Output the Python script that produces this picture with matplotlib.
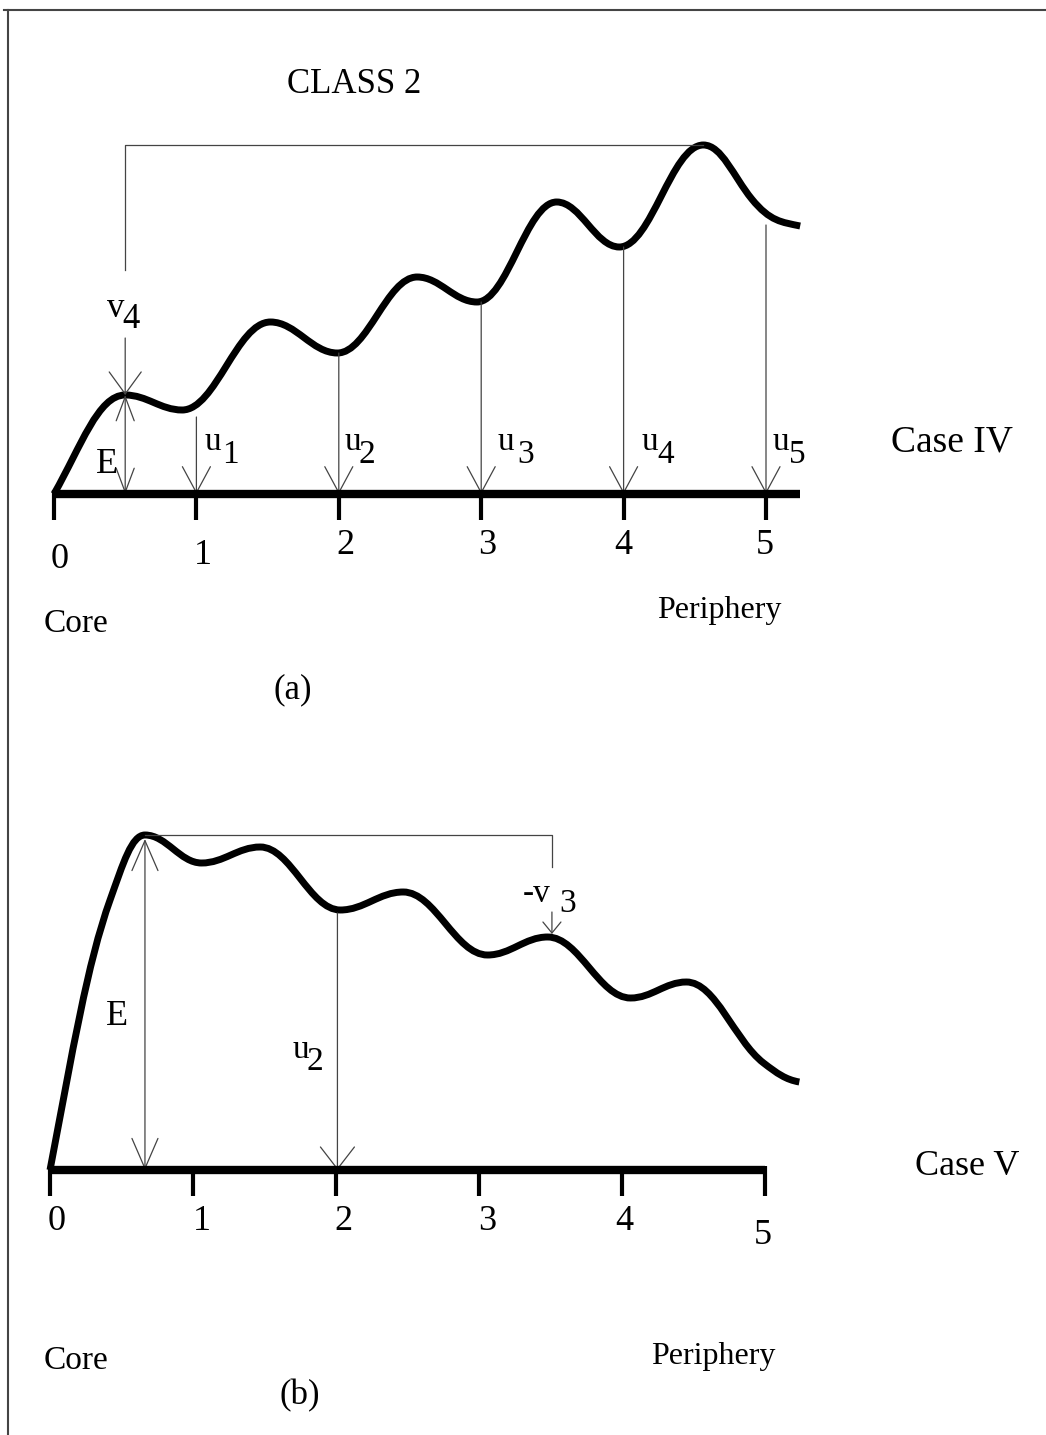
import matplotlib
matplotlib.use("Agg")
import matplotlib.pyplot as plt
from matplotlib.path import Path
from matplotlib.patches import PathPatch, FancyArrowPatch, ArrowStyle
from matplotlib.lines import Line2D

W, H, DPI = 1046, 1435, 100
PT = DPI / 72.0

# ---------------- data ----------------
# Panel (a), Case IV: potential profile from core (0) to periphery (5)
pos_a = [0.0, 0.50, 0.90, 1.52, 1.99, 2.55, 2.97, 3.53, 3.97, 4.56, 4.90, 5.24]
energy_a = [0.0, 1.98, 1.68, 3.44, 2.82, 4.34, 3.84, 5.84, 4.94, 6.98, 5.90, 5.36]
slope_a = [5.0, 0, 0, 0, 0, 0, 0, 0, 0, 0, -3.5, -0.6]

# Panel (b), Case V
pos_b = [0.0, 0.42, 0.664, 1.06, 1.47, 2.03, 2.47, 3.06, 3.48, 4.06, 4.45, 4.99, 5.24]
energy_b = [0.0, 5.4, 6.7, 6.14, 6.46, 5.2, 5.56, 4.3, 4.66, 3.44, 3.76, 2.14, 1.76]
slope_b = [15.0, 8.0, 0, 0, 0, 0, 0, 0, 0, 0, 0, -2.2, -0.5]

ticks = [0, 1, 2, 3, 4, 5]
tick_labels = ["0", "1", "2", "3", "4", "5"]

# u_k arrows of panel (a): position and top of the arrow
u_pos_a = [1, 2, 3, 4, 5]
u_top_a = [1.54, 2.82, 3.84, 4.94, 5.38]
u_names_a = ["1", "2", "3", "4", "5"]

# panel (a): E arrow at first barrier, v4 arrow from the top connector
E_pos_a, E_top_a = 0.50, 1.98
v4_from = 3.12
v4_stem_top = 4.48
peak_a_pos, peak_a_energy = 4.56, 6.98

# panel (b)
E_pos_b, E_top_b = 0.664, 6.62
u2_pos_b, u2_top_b = 2.01, 5.14
v3_pos_b, v3_from_b, v3_to_b = 3.51, 5.16, 4.72
v3_stem_bottom = 6.06
peak_b_energy = 6.7

# ---------------- drawing ----------------
SERIF = ["Liberation Serif", "DejaVu Serif"]
THIN = "#444444"
fig = plt.figure(figsize=(W / DPI, H / DPI), dpi=DPI)
fig.patch.set_facecolor("white")


def panel_axes(x0_px, ux, y0_px, uy, top_px, bottom_px):
    ax = fig.add_axes([0, 1 - bottom_px / H, 1, (bottom_px - top_px) / H])
    ax.set_xlim(-x0_px / ux, (W - x0_px) / ux)
    ax.set_ylim((y0_px - bottom_px) / uy, (y0_px - top_px) / uy)
    ax.axis("off")
    return ax


def smooth_path(xs, ys, ms, k=0.38):
    verts = [(xs[0], ys[0])]
    codes = [Path.MOVETO]
    for i in range(len(xs) - 1):
        dx = xs[i + 1] - xs[i]
        verts += [(xs[i] + k * dx, ys[i] + ms[i] * k * dx),
                  (xs[i + 1] - k * dx, ys[i + 1] - ms[i + 1] * k * dx),
                  (xs[i + 1], ys[i + 1])]
        codes += [Path.CURVE4] * 3
    return Path(verts, codes)


def arrow(ax, x, y_from, y_to, hl, hw, both=False):
    style = ArrowStyle("<->" if both else "->",
                       head_length=hl / (10 * PT), head_width=hw / (10 * PT))
    ax.add_patch(FancyArrowPatch((x, y_from), (x, y_to), arrowstyle=style,
                                 mutation_scale=10, shrinkA=0, shrinkB=0,
                                 lw=0.9, color=THIN, clip_on=False))


def axis_bar(ax, x_end):
    ax.plot([-0.01, x_end], [0, 0], color="black", lw=6.0,
            solid_capstyle="butt", clip_on=False)
    for t in ticks:
        ax.plot([t, t], [0.08, -0.52], color="black", lw=3.0,
                solid_capstyle="butt", clip_on=False)


def ftext(px, py, s, size=25, ha="left"):
    fig.text(px / W, 1 - py / H, s, fontsize=size, ha=ha, va="baseline",
             family=SERIF, color="black")


# frame
fig.add_artist(Line2D([4 / W, 1], [1 - 10 / H, 1 - 10 / H], color="#444444", lw=1.5))
fig.add_artist(Line2D([8 / W, 8 / W], [1 - 10 / H, 0], color="#444444", lw=1.5))

# ----- panel (a) -----
axa = panel_axes(54, 142.4, 494, 50, 0, 740)
axa.add_patch(PathPatch(smooth_path(pos_a, energy_a, slope_a), fill=False,
                        lw=5.0, ec="black", capstyle="butt", joinstyle="round"))
axis_bar(axa, 5.24)
for x, top in zip(u_pos_a, u_top_a):
    arrow(axa, x, top, 0, 26, 14)
arrow(axa, E_pos_a, 0, E_top_a, 24, 9, both=True)
arrow(axa, E_pos_a, v4_from, E_top_a, 22, 16)
axa.plot([E_pos_a, E_pos_a, peak_a_pos], [v4_stem_top, peak_a_energy, peak_a_energy],
         color=THIN, lw=0.9)

ftext(287, 93, "CLASS 2", 25)
ftext(107, 317, "v", 25)
ftext(122, 328, "4", 25)
ftext(96, 473, "E", 26)
u_label_px = [(205, 222), (345, 359), (498, 517), (642, 657), (773, 789)]
for (xu, xd), name in zip(u_label_px, u_names_a):
    ftext(xu, 450, "u", 24)
    ftext(xd, 463, name, 24)
ftext(891, 452, "Case IV", 27)
tick_lab_a = [(60, 568), (203, 564), (345, 554), (487, 554), (623, 554), (765, 554)]
for (px, py), s in zip(tick_lab_a, tick_labels):
    ftext(px, py, s, 26, ha="center")
ftext(44, 632, "Core", 24)
ftext(657, 618, "Periphery", 23)
ftext(293, 698, "(a)", 25, ha="center")

# ----- panel (b) -----
axb = panel_axes(50, 143, 1170, 50, 740, 1435)
axb.add_patch(PathPatch(smooth_path(pos_b, energy_b, slope_b), fill=False,
                        lw=5.0, ec="black", capstyle="butt", joinstyle="round"))
axis_bar(axb, 5.0)
arrow(axb, E_pos_b, 0, E_top_b, 30, 13, both=True)
arrow(axb, u2_pos_b, u2_top_b, 0, 22, 17)
arrow(axb, v3_pos_b, v3_from_b, v3_to_b, 11, 9)
axb.plot([E_pos_b, v3_pos_b, v3_pos_b],
         [peak_b_energy, peak_b_energy, v3_stem_bottom], color=THIN, lw=0.9)

ftext(106, 1025, "E", 26)
ftext(293, 1058, "u", 24)
ftext(307, 1070, "2", 24)
ftext(523, 902, "-v", 24)
ftext(559, 912, "3", 24)
ftext(915, 1175, "Case V", 26)
tick_lab_b = [(57, 1230), (202, 1230), (343, 1230), (487, 1230), (624, 1230), (763, 1244)]
for (px, py), s in zip(tick_lab_b, tick_labels):
    ftext(px, py, s, 26, ha="center")
ftext(44, 1369, "Core", 24)
ftext(651, 1364, "Periphery", 23)
ftext(300, 1404, "(b)", 25, ha="center")

fig.savefig("out.png", dpi=DPI, facecolor="white")
